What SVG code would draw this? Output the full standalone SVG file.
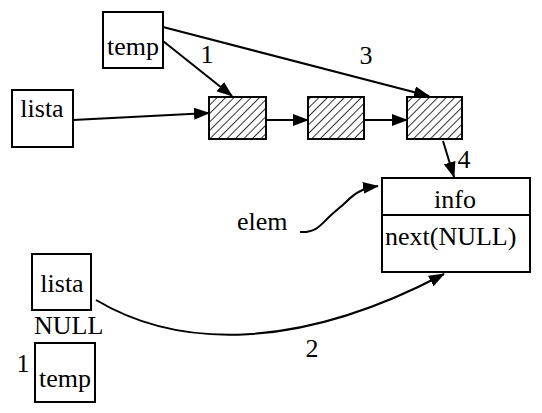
<svg xmlns="http://www.w3.org/2000/svg" width="542" height="413" viewBox="0 0 542 413">
<defs>
<pattern id="hatch" patternUnits="userSpaceOnUse" width="6" height="6" patternTransform="rotate(45)">
<line x1="0" y1="-1" x2="0" y2="7" stroke="#000" stroke-width="1.6"/>
</pattern>
<marker id="arr" markerUnits="userSpaceOnUse" markerWidth="16" markerHeight="12" refX="15" refY="6" orient="auto">
<path d="M0,0 L16,6 L0,12 Z" fill="#000"/>
</marker>
<style>
.box{fill:#fff;stroke:#000;stroke-width:2}
.node{fill:url(#hatch);stroke:#000;stroke-width:2}
.t{font-family:"Liberation Serif","Times New Roman",serif;font-size:26px;fill:#000}
.m{text-anchor:middle}
.c{fill:none;stroke:#000;stroke-width:2;marker-end:url(#arr)}
</style>
</defs>
<rect width="542" height="413" fill="#fff"/>
<g id="temp-top"><rect class="box" x="103" y="12" width="60" height="56"/><text class="t m" x="133" y="55">temp</text></g>
<g id="lista-top"><rect class="box" x="12" y="90" width="61" height="57"/><text class="t m" x="42" y="117">lista</text></g>
<g id="n1"><rect class="node" x="209" y="97" width="57" height="42"/></g>
<g id="n2"><rect class="node" x="308" y="97" width="56" height="42"/></g>
<g id="n3"><rect class="node" x="407" y="97" width="55" height="42"/></g>
<g id="elem-node"><rect class="box" x="382" y="178" width="148" height="94"/><line x1="382" y1="215" x2="530" y2="215" stroke="#000" stroke-width="2"/><text class="t m" x="455" y="208">info</text><text class="t" x="385" y="245">next(NULL)</text></g>
<g id="elem-label"><text class="t" x="237" y="230">elem</text></g>
<g id="lista-bottom"><rect class="box" x="32" y="254" width="59" height="56"/><text class="t m" x="62" y="292">lista</text><text class="t" x="34" y="334">NULL</text></g>
<g id="temp-bottom"><rect class="box" x="35" y="343" width="60" height="59"/><text class="t m" x="65" y="387">temp</text><text class="t m" x="23" y="372">1</text></g>
<g id="connectors">
<line class="c" x1="73" y1="120" x2="209" y2="113"/>
<line class="c" x1="266" y1="120" x2="308" y2="120"/>
<line class="c" x1="364" y1="120" x2="407" y2="120"/>
<line class="c" x1="163" y1="41" x2="232" y2="96"/>
<line class="c" x1="163" y1="27" x2="429" y2="96"/>
<line class="c" x1="443" y1="141" x2="454" y2="177"/>
<path class="c" d="M300,232 C315,233 320,226 328,218 C336,210 340,208 346,202 C354,194 362,188 378,186"/>
<path class="c" d="M96,300 C180,350 300,350 444,274"/>
<text class="t m" x="207" y="63">1</text>
<text class="t m" x="366" y="64">3</text>
<text class="t m" x="464" y="168">4</text>
<text class="t m" x="312" y="357">2</text>
</g>
</svg>
